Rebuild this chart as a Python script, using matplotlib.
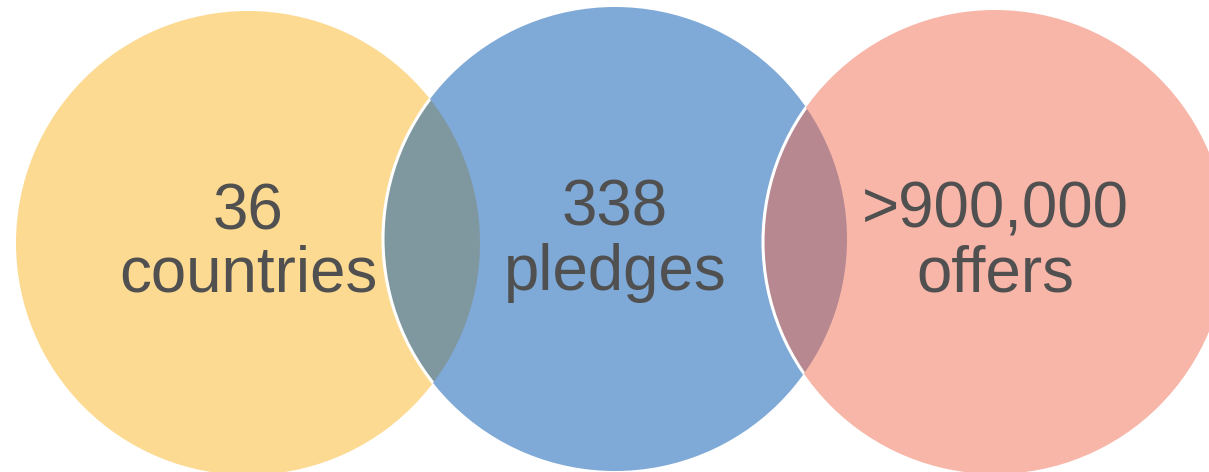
import matplotlib
matplotlib.use("Agg")
import matplotlib.pyplot as plt
from matplotlib.patches import Circle

labels_top = ["36", "338", ">900,000"]
labels_bottom = ["countries", "pledges", "offers"]
centers_x = [248, 615, 995]
centers_y = [243, 239, 242]
radius = 232
fill_colors = ["#FDDA92", "#7FA9D6", "#F8B6A9"]
overlap_colors = ["#7F98A0", "#B88890"]
text_color = "#505050"

fig = plt.figure(figsize=(12.09, 4.72), dpi=100)
ax = fig.add_axes([0, 0, 1, 1])
ax.set_xlim(0, 1209)
ax.set_ylim(472, 0)
ax.set_aspect("equal")
ax.axis("off")

circles = []
for i in range(3):
    c = Circle((centers_x[i], centers_y[i]), radius, facecolor=fill_colors[i],
               edgecolor="none", zorder=1 + 3 * i)
    ax.add_patch(c)
    circles.append(c)
    if i > 0:
        # overlap with previous circle
        ov = Circle((centers_x[i - 1], centers_y[i - 1]), radius,
                    facecolor=overlap_colors[i - 1], edgecolor="none",
                    zorder=2 + 3 * i)
        ax.add_patch(ov)
        ov.set_clip_path(c)
        edge = Circle((centers_x[i], centers_y[i]), radius, facecolor="none",
                      edgecolor="white", linewidth=2.2, zorder=3 + 3 * i)
        ax.add_patch(edge)
        edge.set_clip_path(circles[i - 1])

line1_y = [230, 226, 228]
line2_y = [292, 290, 292]
for i in range(3):
    ax.text(centers_x[i], line1_y[i], labels_top[i], ha="center", va="baseline",
            fontsize=45.8, color=text_color, family="Liberation Sans", zorder=20)
    ax.text(centers_x[i], line2_y[i], labels_bottom[i], ha="center", va="baseline",
            fontsize=45.8, color=text_color, family="Liberation Sans", zorder=20)

fig.savefig("out.png", dpi=100)
